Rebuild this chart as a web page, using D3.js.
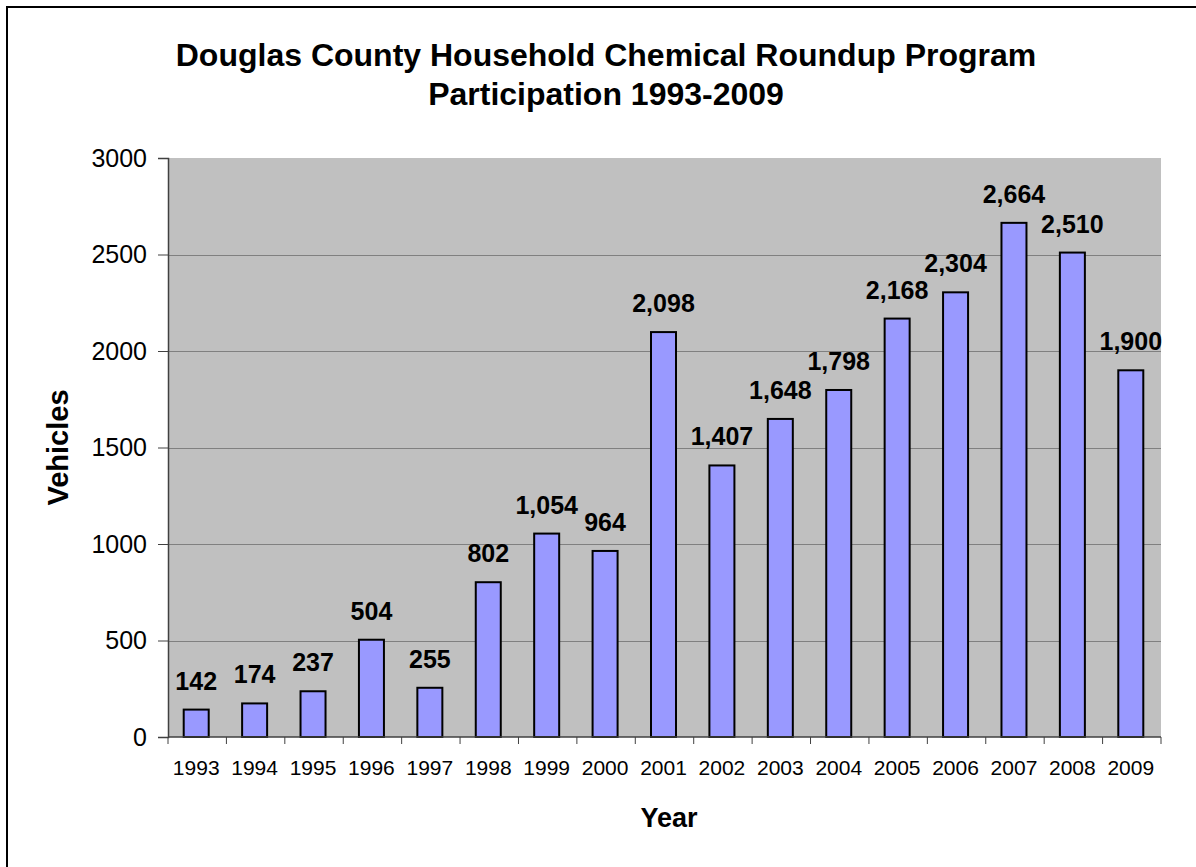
<!DOCTYPE html>
<html>
<head>
<meta charset="utf-8">
<script src="https://cdn.jsdelivr.net/npm/d3@7"></script>
<style>
  body { margin: 0; background: #fff; }
  svg { display: block; font-family: 'Liberation Sans', Arial, sans-serif; }
</style>
</head>
<body>
<svg id="chart" width="1196" height="867"></svg>
<script>
const years = ['1993', '1994', '1995', '1996', '1997', '1998', '1999', '2000', '2001',
  '2002', '2003', '2004', '2005', '2006', '2007', '2008', '2009'];
const vehicles = [142, 174, 237, 504, 255, 802, 1054, 964, 2098,
  1407, 1648, 1798, 2168, 2304, 2664, 2510, 1900];
const yTicks = [0, 500, 1000, 1500, 2000, 2500, 3000];
const titleLines = ['Douglas County Household Chemical Roundup Program', 'Participation 1993-2009'];

const plot = {left: 168, right: 1161, top: 158, bottom: 737};
const svg = d3.select('#chart');

// outer chart border (right and bottom run off the page)
svg.append('rect')
  .attr('x', 7).attr('y', 7)
  .attr('width', 1210).attr('height', 880)
  .attr('fill', '#fff')
  .attr('stroke', '#000')
  .attr('stroke-width', 2);

const x = d3.scaleBand()
  .domain(years)
  .range([plot.left, plot.right]);
const y = d3.scaleLinear()
  .domain([0, 3000])
  .range([plot.bottom, plot.top]);

// plot background
svg.append('rect')
  .attr('x', plot.left).attr('y', plot.top)
  .attr('width', plot.right - plot.left)
  .attr('height', plot.bottom - plot.top)
  .attr('fill', '#c0c0c0');

// gridlines
svg.append('g')
  .selectAll('line')
  .data(yTicks.filter(d => d > 0 && d < 3000))
  .join('line')
  .attr('x1', plot.left).attr('x2', plot.right)
  .attr('y1', d => Math.round(y(d)) + 0.5).attr('y2', d => Math.round(y(d)) + 0.5)
  .attr('stroke', '#808080')
  .attr('stroke-width', 1);

// bars
const barW = 25;
svg.append('g')
  .selectAll('rect')
  .data(vehicles)
  .join('rect')
  .attr('x', (d, i) => x(years[i]) + x.bandwidth() / 2 - barW / 2 - 1)
  .attr('y', d => y(d))
  .attr('width', barW)
  .attr('height', d => plot.bottom - y(d))
  .attr('fill', '#9999ff')
  .attr('stroke', '#000')
  .attr('stroke-width', 2);

// value labels
svg.append('g')
  .selectAll('text')
  .data(vehicles)
  .join('text')
  .attr('x', (d, i) => x(years[i]) + x.bandwidth() / 2 - 1)
  .attr('y', d => y(d) - 20)
  .attr('text-anchor', 'middle')
  .style('font-size', '25px')
  .style('font-weight', 'bold')
  .text(d => d3.format(',')(d));

// y axis
const yAxis = d3.axisLeft(y)
  .tickValues(yTicks)
  .tickSize(10)
  .tickPadding(11)
  .tickFormat(d3.format('d'));
const yG = svg.append('g')
  .attr('transform', `translate(${plot.left},0)`)
  .call(yAxis);
yG.select('.domain').attr('stroke', '#404040').attr('stroke-width', 1.5);
yG.selectAll('.tick line').attr('stroke', '#404040');
yG.selectAll('text')
  .style('font-family', "'Liberation Sans', Arial, sans-serif")
  .style('font-size', '25px')
  .attr('fill', '#000');

// x axis: line, boundary ticks, labels
svg.append('line')
  .attr('x1', plot.left).attr('x2', plot.right)
  .attr('y1', plot.bottom).attr('y2', plot.bottom)
  .attr('stroke', '#404040').attr('stroke-width', 1.5);
const bounds = years.map(d => x(d)).concat([plot.right]);
svg.append('g')
  .selectAll('line')
  .data(bounds)
  .join('line')
  .attr('x1', d => d).attr('x2', d => d)
  .attr('y1', plot.bottom).attr('y2', plot.bottom + 7)
  .attr('stroke', '#404040');
svg.append('g')
  .selectAll('text')
  .data(years)
  .join('text')
  .attr('x', d => x(d) + x.bandwidth() / 2 - 1)
  .attr('y', 775)
  .attr('text-anchor', 'middle')
  .style('font-size', '21px')
  .text(d => d);

// titles
svg.append('g')
  .selectAll('text')
  .data(titleLines)
  .join('text')
  .attr('x', 606)
  .attr('y', (d, i) => 66 + i * 39)
  .attr('text-anchor', 'middle')
  .style('font-size', '32px')
  .style('font-weight', 'bold')
  .text(d => d);

svg.append('text')
  .attr('x', 669).attr('y', 827)
  .attr('text-anchor', 'middle')
  .style('font-size', '27px')
  .style('font-weight', 'bold')
  .text('Year');

svg.append('text')
  .attr('transform', `translate(68,${(plot.top + plot.bottom) / 2}) rotate(-90)`)
  .attr('text-anchor', 'middle')
  .style('font-size', '29px')
  .style('font-weight', 'bold')
  .text('Vehicles');
</script>
</body>
</html>
